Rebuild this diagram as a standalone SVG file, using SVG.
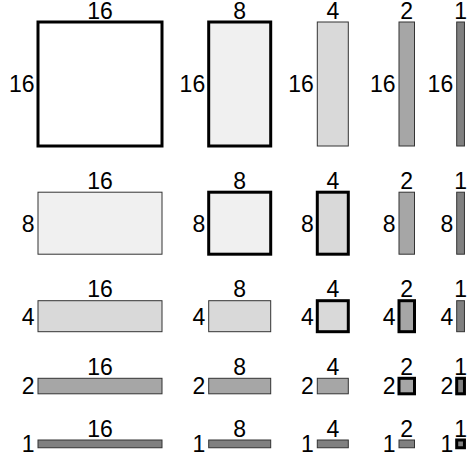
<svg xmlns="http://www.w3.org/2000/svg" width="467" height="461" viewBox="0 0 467 461">
<style>
text{font-family:"Liberation Sans",Arial,sans-serif;font-size:23px;fill:#000}
.t{text-anchor:middle}
.l{text-anchor:end}
.thin{stroke:#333;stroke-width:1}
.thick{stroke:#000;stroke-width:3}
.f16{fill:#fff}.f8{fill:#f0f0f0}.f4{fill:#d9d9d9}.f2{fill:#a6a6a6}.f1{fill:#808080}
</style>
<rect width="467" height="461" fill="#fff"/>
<!-- Row 1 -->
<g id="r16c16"><rect class="f16 thick" x="38" y="22" width="124" height="124"/><text class="t" x="100" y="18.5">16</text><text class="l" x="34.5" y="92.3">16</text></g>
<g id="r16c8"><rect class="f8 thick" x="208.7" y="22" width="62" height="124"/><text class="t" x="239.7" y="18.5">8</text><text class="l" x="205.2" y="92.3">16</text></g>
<g id="r16c4"><rect class="f4 thin" x="317.3" y="22" width="31" height="124"/><text class="t" x="332.8" y="18.5">4</text><text class="l" x="313.8" y="92.3">16</text></g>
<g id="r16c2"><rect class="f2 thin" x="399" y="22" width="15.5" height="124"/><text class="t" x="406.75" y="18.5">2</text><text class="l" x="395.5" y="92.3">16</text></g>
<g id="r16c1"><rect class="f1 thin" x="456.7" y="22" width="7.75" height="124"/><text class="t" x="460.6" y="18.5">1</text><text class="l" x="453.2" y="92.3">16</text></g>
<!-- Row 2 -->
<g id="r8c16"><rect class="f8 thin" x="38" y="192.2" width="124" height="62"/><text class="t" x="100" y="188.7">16</text><text class="l" x="34.5" y="231.5">8</text></g>
<g id="r8c8"><rect class="f8 thick" x="208.7" y="192.2" width="62" height="62"/><text class="t" x="239.7" y="188.7">8</text><text class="l" x="205.2" y="231.5">8</text></g>
<g id="r8c4"><rect class="f4 thick" x="317.3" y="192.2" width="31" height="62"/><text class="t" x="332.8" y="188.7">4</text><text class="l" x="313.8" y="231.5">8</text></g>
<g id="r8c2"><rect class="f2 thin" x="399" y="192.2" width="15.5" height="62"/><text class="t" x="406.75" y="188.7">2</text><text class="l" x="395.5" y="231.5">8</text></g>
<g id="r8c1"><rect class="f1 thin" x="456.7" y="192.2" width="7.75" height="62"/><text class="t" x="460.6" y="188.7">1</text><text class="l" x="453.2" y="231.5">8</text></g>
<!-- Row 3 -->
<g id="r4c16"><rect class="f4 thin" x="38" y="300.7" width="124" height="31"/><text class="t" x="100" y="297.2">16</text><text class="l" x="34.5" y="324.5">4</text></g>
<g id="r4c8"><rect class="f4 thin" x="208.7" y="300.7" width="62" height="31"/><text class="t" x="239.7" y="297.2">8</text><text class="l" x="205.2" y="324.5">4</text></g>
<g id="r4c4"><rect class="f4 thick" x="317.3" y="300.7" width="31" height="31"/><text class="t" x="332.8" y="297.2">4</text><text class="l" x="313.8" y="324.5">4</text></g>
<g id="r4c2"><rect class="f2 thick" x="399" y="300.7" width="15.5" height="31"/><text class="t" x="406.75" y="297.2">2</text><text class="l" x="395.5" y="324.5">4</text></g>
<g id="r4c1"><rect class="f1 thin" x="456.7" y="300.7" width="7.75" height="31"/><text class="t" x="460.6" y="297.2">1</text><text class="l" x="453.2" y="324.5">4</text></g>
<!-- Row 4 -->
<g id="r2c16"><rect class="f2 thin" x="38" y="378.3" width="124" height="15.5"/><text class="t" x="100" y="374.8">16</text><text class="l" x="34.5" y="394.3">2</text></g>
<g id="r2c8"><rect class="f2 thin" x="208.7" y="378.3" width="62" height="15.5"/><text class="t" x="239.7" y="374.8">8</text><text class="l" x="205.2" y="394.3">2</text></g>
<g id="r2c4"><rect class="f2 thin" x="317.3" y="378.3" width="31" height="15.5"/><text class="t" x="332.8" y="374.8">4</text><text class="l" x="313.8" y="394.3">2</text></g>
<g id="r2c2"><rect class="f2 thick" x="399" y="378.3" width="15.5" height="15.5"/><text class="t" x="406.75" y="374.8">2</text><text class="l" x="395.5" y="394.3">2</text></g>
<g id="r2c1"><rect class="f1 thick" x="456.7" y="378.3" width="7.75" height="15.5"/><text class="t" x="460.6" y="374.8">1</text><text class="l" x="453.2" y="394.3">2</text></g>
<!-- Row 5 -->
<g id="r1c16"><rect class="f1 thin" x="38" y="440" width="124" height="7.75"/><text class="t" x="100" y="436.5">16</text><text class="l" x="34.5" y="452.2">1</text></g>
<g id="r1c8"><rect class="f1 thin" x="208.7" y="440" width="62" height="7.75"/><text class="t" x="239.7" y="436.5">8</text><text class="l" x="205.2" y="452.2">1</text></g>
<g id="r1c4"><rect class="f1 thin" x="317.3" y="440" width="31" height="7.75"/><text class="t" x="332.8" y="436.5">4</text><text class="l" x="313.8" y="452.2">1</text></g>
<g id="r1c2"><rect class="f1 thin" x="399" y="440" width="15.5" height="7.75"/><text class="t" x="406.75" y="436.5">2</text><text class="l" x="395.5" y="452.2">1</text></g>
<g id="r1c1"><rect class="f1 thick" x="456.7" y="440" width="7.75" height="7.75"/><text class="t" x="460.6" y="436.5">1</text><text class="l" x="453.2" y="452.2">1</text></g>
<g id="connectors"/>
</svg>
